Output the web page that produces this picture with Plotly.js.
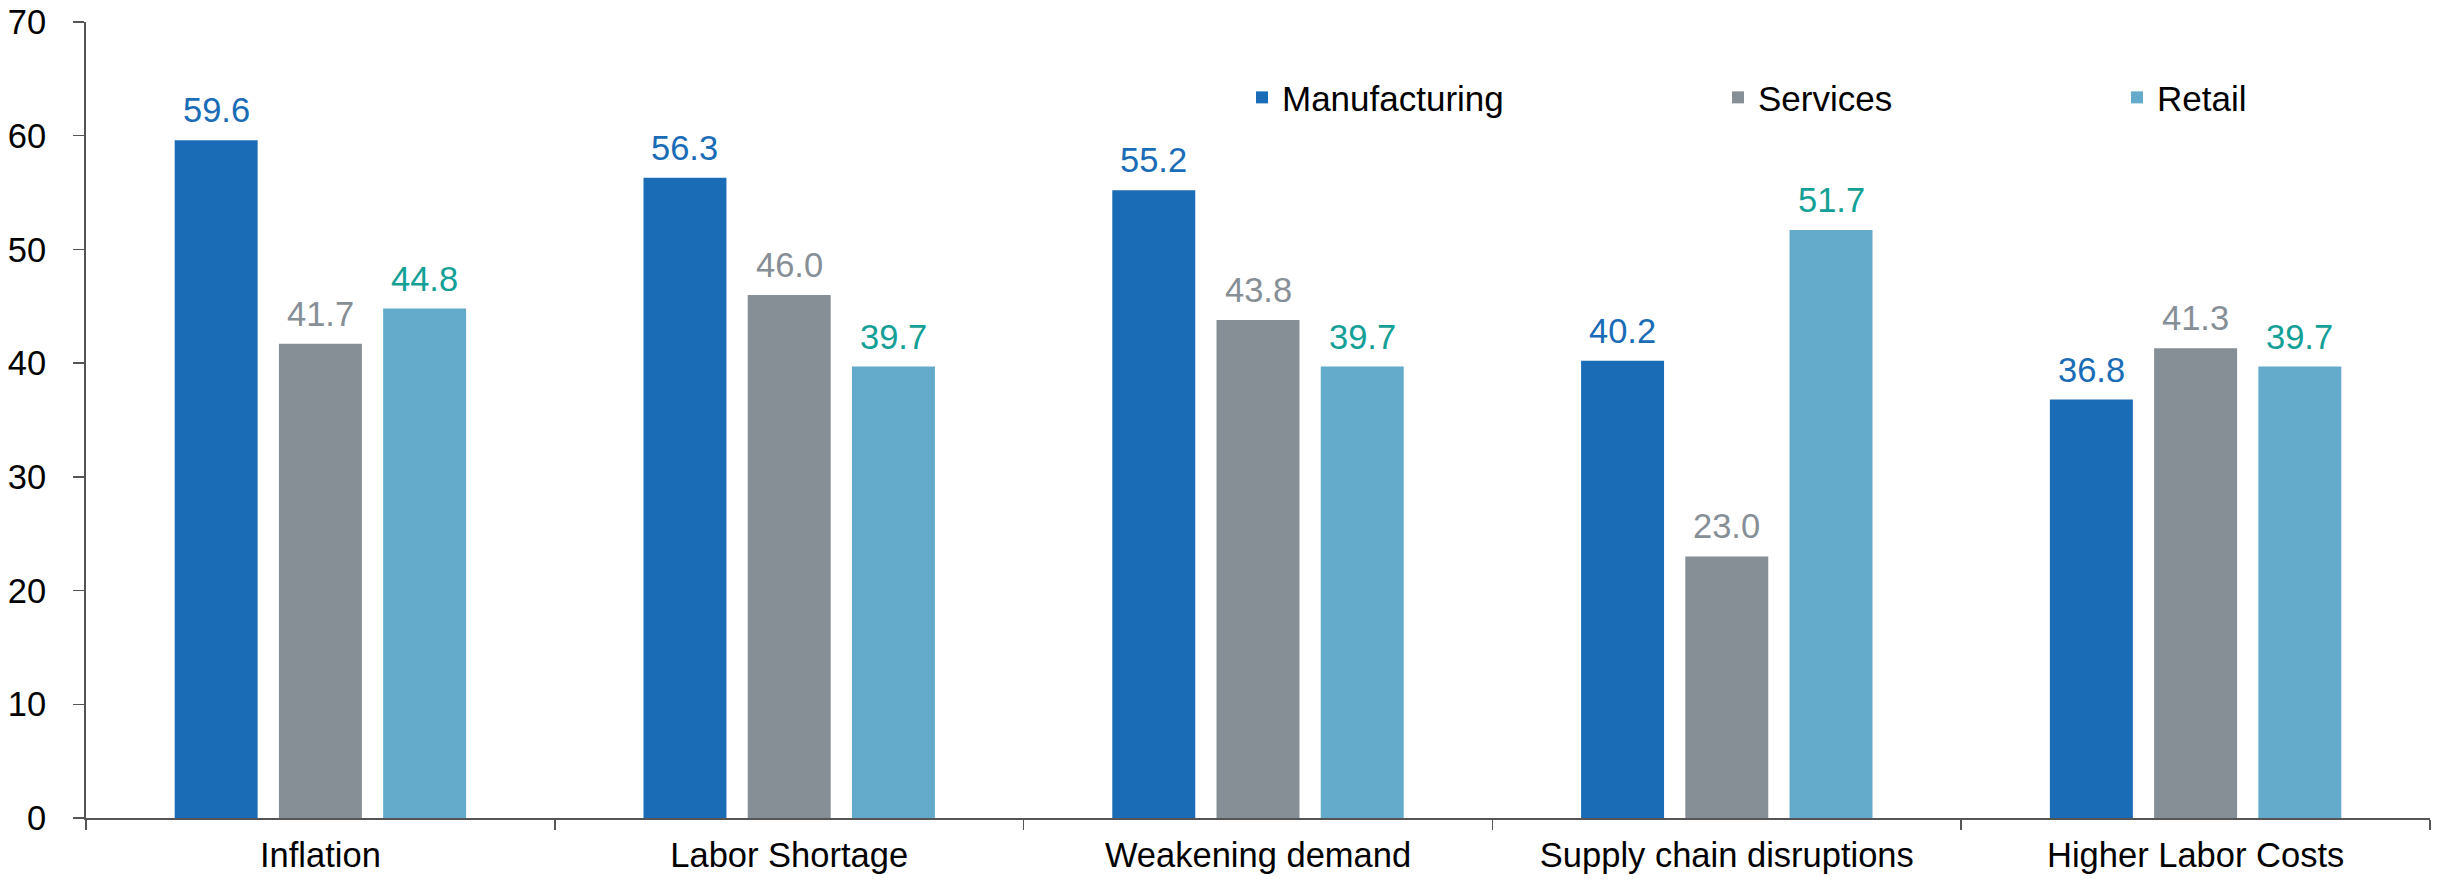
<!DOCTYPE html>
<html>
<head>
<meta charset="utf-8">
<script src="https://cdn.plot.ly/plotly-3.0.1.min.js"></script>
<style>html,body{margin:0;padding:0;background:#fff;}#chart{width:2443px;height:879px;}</style>
</head>
<body>
<div id="chart"></div>
<script>
const categories = ["Inflation", "Labor Shortage", "Weakening demand", "Supply chain disruptions", "Higher Labor Costs"];
const seriesNames = ["Manufacturing", "Services", "Retail"];
const manufacturing = [59.6, 56.3, 55.2, 40.2, 36.8];
const services = [41.7, 46.0, 43.8, 23.0, 41.3];
const retail = [44.8, 39.7, 39.7, 51.7, 39.7];
const yTicks = [0, 10, 20, 30, 40, 50, 60, 70];

const barColors = ["#196CB5", "#868F96", "#63AACB"];
const labelColors = ["#196CB5", "#868F96", "#14A096"];
const FONT = "Liberation Sans, Arial, sans-serif";
const seriesValues = [manufacturing, services, retail];
const legendIds = ["legend", "legend2", "legend3"];

const traces = seriesValues.map((vals, i) => ({
  type: "bar",
  name: seriesNames[i],
  x: categories,
  y: vals,
  marker: {color: barColors[i], line: {width: 0}},
  legend: legendIds[i],
  hoverinfo: "x+y+name"
}));

const plotW = 2443 - 86 - 13;
const catW = plotW / categories.length;
const slot = catW * (1 - 0.333) / 3;

const annotations = [];
seriesValues.forEach((vals, i) => {
  vals.forEach((v, j) => {
    annotations.push({
      x: categories[j], y: v, xref: "x", yref: "y",
      text: v.toFixed(1), showarrow: false,
      xanchor: "center", yanchor: "bottom",
      xshift: (i - 1) * slot, yshift: 9,
      font: {family: FONT, size: 34.5, color: labelColors[i]}
    });
  });
});

function legendCfg(px) {
  return {
    orientation: "h", x: (px - 86) / plotW, xanchor: "left",
    y: 0.905, yanchor: "middle",
    font: {family: FONT, size: 35, color: "#000"},
    bgcolor: "rgba(0,0,0,0)", itemwidth: 30, tracegroupgap: 0
  };
}

const layout = {
  width: 2443, height: 879,
  margin: {l: 86, r: 13, t: 22, b: 61, pad: 0},
  paper_bgcolor: "#fff", plot_bgcolor: "#fff",
  font: {family: FONT, size: 34.5, color: "#000"},
  barmode: "group", bargap: 0.333, bargroupgap: 0.204,
  showlegend: true,
  legend: legendCfg(1242),
  legend2: legendCfg(1718),
  legend3: legendCfg(2117),
  xaxis: {
    type: "category", showline: true, linecolor: "#555", linewidth: 2,
    ticks: "outside", tickson: "boundaries", ticklen: 10, tickwidth: 1.5, tickcolor: "#555",
    showgrid: false, zeroline: false, ticklabelstandoff: 6,
    tickfont: {family: FONT, size: 34.5, color: "#000"}
  },
  yaxis: {
    range: [0, 70], tickvals: yTicks, ticktext: yTicks.map(String),
    showline: true, linecolor: "#555", linewidth: 2,
    ticks: "outside", ticklen: 11, tickwidth: 1.5, tickcolor: "#555",
    showgrid: false, zeroline: false, ticklabelstandoff: 20,
    tickfont: {family: FONT, size: 34.5, color: "#000"}
  },
  annotations: annotations
};

Plotly.newPlot("chart", traces, layout, {displayModeBar: false, staticPlot: true});
</script>
</body>
</html>
